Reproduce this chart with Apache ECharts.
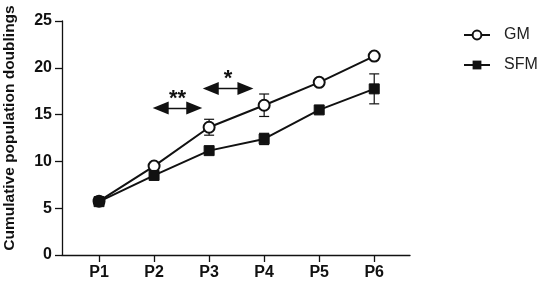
<!DOCTYPE html>
<html>
<head>
<meta charset="utf-8">
<script src="https://cdn.jsdelivr.net/npm/echarts@6/dist/echarts.min.js"></script>
<style>
    html, body { margin: 0; padding: 0; background: #fff; }
    #chart { width: 540px; height: 285px; }
</style>
</head>
<body>
<div id="chart"></div>
<script>
// passages P1..P6
var passages = [1, 2, 3, 4, 5, 6];
var passageLabels = ['P1', 'P2', 'P3', 'P4', 'P5', 'P6'];
var gmValues = [5.75, 9.5, 13.65, 16.0, 18.45, 21.25];
var gmErrors = [0, 0.2, 0.85, 1.2, 0.2, 0.2];
var sfmValues = [5.7, 8.5, 11.15, 12.4, 15.5, 17.75];
var sfmErrors = [0, 0.2, 0.2, 0.6, 0.2, 1.6];
// significance arrows: [xStart, xEnd, y, label]
var significance = [
    [2.12, 2.73, 15.7, '**'],
    [3.03, 3.66, 17.8, '*']
];

function errorData(values, errors) {
    var out = [];
    for (var i = 0; i < values.length; i++) {
        if (errors[i] > 0.3) {
            out.push([passages[i], values[i] - errors[i], values[i] + errors[i]]);
        }
    }
    return out;
}

function renderErrorBar(params, api) {
    var x = api.value(0);
    var low = api.coord([x, api.value(1)]);
    var high = api.coord([x, api.value(2)]);
    var half = 5;
    var style = { stroke: '#111', lineWidth: 1.2 };
    return {
        type: 'group',
        children: [
            { type: 'line', shape: { x1: low[0], y1: low[1], x2: high[0], y2: high[1] }, style: style },
            { type: 'line', shape: { x1: low[0] - half, y1: low[1], x2: low[0] + half, y2: low[1] }, style: style },
            { type: 'line', shape: { x1: high[0] - half, y1: high[1], x2: high[0] + half, y2: high[1] }, style: style }
        ]
    };
}

function pairs(values) {
    var out = [];
    for (var i = 0; i < values.length; i++) out.push([passages[i], values[i]]);
    return out;
}

var markLines = [];
for (var k = 0; k < significance.length; k++) {
    var s = significance[k];
    markLines.push([
        { coord: [s[0], s[2]], label: { formatter: s[3] } },
        { coord: [s[1], s[2]] }
    ]);
}

var myChart = echarts.init(document.getElementById('chart'));
var fontName = 'Liberation Sans';

var option = {
    animation: false,
    grid: { left: 62, right: 130, top: 21, bottom: 30, containLabel: false, outerBoundsMode: 'none' },
    legend: {
        orient: 'vertical',
        left: 463,
        top: 27,
        padding: 0,
        itemWidth: 26,
        itemHeight: 11,
        itemGap: 14,
        textStyle: { fontFamily: fontName, fontSize: 16, color: '#222', padding: [0, 0, 0, 9] },
        data: ['GM', 'SFM']
    },
    xAxis: {
        type: 'value',
        min: 0.327,
        max: 6.65,
        splitLine: { show: false },
        axisLine: { lineStyle: { color: '#111', width: 1.3 } },
        axisTick: { customValues: passages, length: 7, lineStyle: { color: '#111', width: 1.3 } },
        axisLabel: {
            customValues: passages,
            margin: 10,
            fontFamily: fontName, fontWeight: 'bold', fontSize: 16, color: '#111',
            formatter: function (v) { return passageLabels[Math.round(v) - 1]; }
        }
    },
    yAxis: {
        type: 'value',
        min: 0,
        max: 25,
        interval: 5,
        name: 'Cumulative population doublings',
        nameLocation: 'middle',
        nameGap: 44,
        nameTextStyle: { fontFamily: fontName, fontWeight: 'bold', fontSize: 15.5, color: '#111', padding: [0, 0, 0, 20] },
        splitLine: { show: false },
        axisLine: { show: true, lineStyle: { color: '#111', width: 1.3 } },
        axisTick: { show: true, length: 7, lineStyle: { color: '#111', width: 1.3 } },
        axisLabel: { margin: 10, fontFamily: fontName, fontWeight: 'bold', fontSize: 16, color: '#111' }
    },
    series: [{
        name: 'GM',
        type: 'line',
        data: pairs(gmValues),
        symbol: 'circle',
        symbolSize: 11,
        lineStyle: { color: '#111', width: 2 },
        itemStyle: { color: '#fff', borderColor: '#111', borderWidth: 2 },
        z: 3,
        markLine: {
            silent: true,
            symbol: ['triangle', 'triangle'],
            symbolSize: [13, 16],
            lineStyle: { color: '#111', type: 'solid', width: 1.3 },
            label: { position: 'middle', distance: -2, fontFamily: fontName, fontWeight: 'bold', fontSize: 22, color: '#111' },
            data: markLines
        }
    }, {
        name: 'SFM',
        type: 'line',
        data: pairs(sfmValues),
        symbol: 'rect',
        symbolSize: 10,
        lineStyle: { color: '#111', width: 2 },
        itemStyle: { color: '#111', borderColor: '#111' },
        z: 3
    }, {
        type: 'custom',
        renderItem: renderErrorBar,
        data: errorData(gmValues, gmErrors).concat(errorData(sfmValues, sfmErrors)),
        z: 2
    }]
};

if (option && typeof option === "object") {
    myChart.setOption(option, true);
}
</script>
</body>
</html>
